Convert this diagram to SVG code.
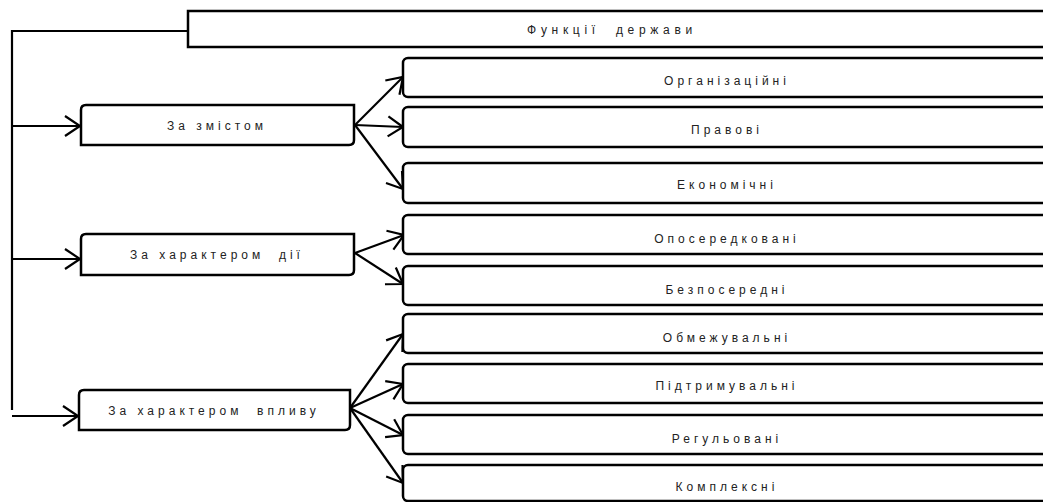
<svg xmlns="http://www.w3.org/2000/svg" width="1043" height="502" viewBox="0 0 1043 502">
<defs>
<marker id="arr" markerUnits="userSpaceOnUse" markerWidth="30" markerHeight="30" refX="0" refY="0" viewBox="-20 -15 30 30" orient="auto" overflow="visible">
<path d="M-15,-10 L0,0 L-15,10" fill="none" stroke="#000" stroke-width="2.2" stroke-linejoin="miter"/>
</marker>
<style>
.box{fill:#fff;stroke:#000;stroke-width:2.5}
.t{font-family:"Liberation Sans",Arial,sans-serif;font-size:12px;letter-spacing:4px;fill:#222;text-anchor:middle}
.top{letter-spacing:4.7px}
.c{fill:none;stroke:#000;stroke-width:2.2}
.ca{fill:none;stroke:#000;stroke-width:2.2;marker-end:url(#arr)}
</style>
</defs>
<rect width="1043" height="502" fill="#fff"/>
<g id="connectors">
<polyline class="c" points="188,31 12,31 12,410"/>
<line class="ca" x1="12" y1="126" x2="80" y2="126"/>
<line class="ca" x1="12" y1="259" x2="80" y2="259"/>
<line class="ca" x1="12" y1="416" x2="78" y2="416"/>
<line class="ca" x1="355" y1="125" x2="403" y2="77"/>
<line class="ca" x1="355" y1="125" x2="403" y2="127"/>
<line class="ca" x1="355" y1="125" x2="403" y2="189"/>
<line class="ca" x1="355" y1="253" x2="404" y2="235"/>
<line class="ca" x1="355" y1="253" x2="403" y2="284"/>
<line class="ca" x1="350" y1="408" x2="403" y2="334"/>
<line class="ca" x1="350" y1="408" x2="403" y2="384"/>
<line class="ca" x1="350" y1="408" x2="403" y2="435"/>
<line class="ca" x1="350" y1="408" x2="403" y2="483"/>
</g>
<g id="n-root">
<rect class="box" x="188" y="11" width="870" height="36"/>
<text class="t top" x="612" y="34" xml:space="preserve">Функції  держави</text>
</g>
<g id="n-zmist">
<path class="box" d="M86,105 H354 V140 Q354,145 349,145 H81 V110 Q81,105 86,105 Z"/>
<text class="t" x="217" y="130">За змістом</text>
</g>
<g id="n-diyi">
<path class="box" d="M86,234 H354 V270 Q354,275 349,275 H81 V239 Q81,234 86,234 Z"/>
<text class="t" x="217" y="259" xml:space="preserve">За характером  дії</text>
</g>
<g id="n-vplyv">
<path class="box" d="M84,390 H350 V425 Q350,430 345,430 H79 V395 Q79,390 84,390 Z"/>
<text class="t" x="214" y="415" xml:space="preserve">За характером  впливу</text>
</g>
<g id="n-org"><rect class="box" x="403" y="58" width="650" height="39" rx="5"/><text class="t" x="727" y="85">Організаційні</text></g>
<g id="n-prav"><rect class="box" x="403" y="107" width="650" height="40" rx="5"/><text class="t" x="727" y="134">Правові</text></g>
<g id="n-ekon"><rect class="box" x="403" y="163" width="650" height="40" rx="5"/><text class="t" x="727" y="189">Економічні</text></g>
<g id="n-oposer"><rect class="box" x="403" y="215" width="650" height="39" rx="5"/><text class="t" x="727" y="243">Опосередковані</text></g>
<g id="n-bezpos"><rect class="box" x="403" y="266" width="650" height="39" rx="5"/><text class="t" x="727" y="294">Безпосередні</text></g>
<g id="n-obmezh"><rect class="box" x="403" y="314" width="650" height="39" rx="5"/><text class="t" x="727" y="342">Обмежувальні</text></g>
<g id="n-pidtr"><rect class="box" x="403" y="364" width="650" height="39" rx="5"/><text class="t" x="727" y="390">Підтримувальні</text></g>
<g id="n-reg"><rect class="box" x="403" y="415" width="650" height="39" rx="5"/><text class="t" x="727" y="443">Регульовані</text></g>
<g id="n-kompl"><rect class="box" x="403" y="465" width="650" height="36" rx="5"/><text class="t" x="727" y="491">Комплексні</text></g>
</svg>
